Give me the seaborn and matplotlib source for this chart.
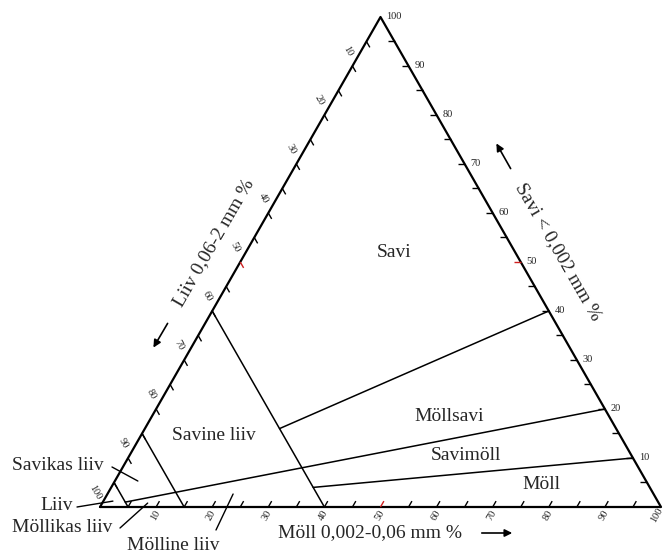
import numpy as np
import pandas as pd
import matplotlib
matplotlib.use('Agg')
import matplotlib.pyplot as plt
import seaborn as sns
from matplotlib.collections import LineCollection

# Piirjooned kolmnurgas: (savi %, möll %) algus ja lõpp
line_clay_start = [5, 15, 40, 16, 1, 4]
line_silt_start = [0, 0, 0, 24, 4, 36]
line_clay_end = [0, 0, 0, 40, 20, 10]
line_silt_end = [5, 15, 40, 60, 80, 90]

# Teljed
tick_values = list(range(5, 100, 5))
label_values = [10, 20, 30, 40, 50, 60, 70, 80, 90, 100]
red_tick = 50

# Alade nimed
region_names = ['Savi', 'Möllsavi', 'Savimöll', 'Möll', 'Savine liiv']
region_clay = [52, 18.5, 10.5, 4.5, 14.5]
region_silt = [26.5, 53, 60, 76.5, 13]

pointer_names = ['Liiv', 'Savikas liiv', 'Möllikas liiv', 'Mölline liiv']
pointer_clay = [1.2, 5.3, 0.8, 2.65]
pointer_silt = [1.7, 4.1, 8.1, 22.4]

H = np.sqrt(3) / 2


def tern(clay, silt):
    clay = np.asarray(clay, dtype=float)
    silt = np.asarray(silt, dtype=float)
    return silt + clay / 2, clay * H


# pikslid -> andmed (666x554 pilt)
KX = 5.61
KY = 86.6025 / 490


def px(xp, yp):
    return (xp - 100) / KX, (507 - yp) * KY


sns.set_theme(style='white')
plt.rcParams['font.family'] = ['Liberation Serif', 'DejaVu Serif']

fig = plt.figure(figsize=(6.66, 5.54), dpi=100)
ax = fig.add_axes([0, 0, 1, 1])
ax.set_xlim(px(0, 0)[0], px(666, 0)[0])
ax.set_ylim(px(0, 554)[1], px(0, 0)[1])
ax.axis('off')

# raam
fx, fy = tern([0, 0, 100, 0], [0, 100, 0, 0])
frame = pd.DataFrame({'x': fx, 'y': fy, 'seg': 0})
sns.lineplot(data=frame, x='x', y='y', units='seg', estimator=None, sort=False,
             color='black', linewidth=1.6, ax=ax, legend=False)

# piirjooned
x0, y0 = tern(line_clay_start, line_silt_start)
x1, y1 = tern(line_clay_end, line_silt_end)
rows = []
for i in range(len(x0)):
    rows.append({'x': x0[i], 'y': y0[i], 'seg': i})
    rows.append({'x': x1[i], 'y': y1[i], 'seg': i})
bounds = pd.DataFrame(rows)
sns.lineplot(data=bounds, x='x', y='y', units='seg', estimator=None, sort=False,
             color='black', linewidth=1.1, ax=ax, legend=False)

# kriipsud
L = 1.2
segs, cols = [], []
for v in tick_values:
    c = '#d02020' if v == red_tick else 'black'
    # alumine (möll)
    bx, by = tern(0, v)
    segs.append([(bx, by), (bx + 0.5 * L, by + H * L)])
    cols.append(c)
    # parem (savi)
    rx, ry = tern(v, 100 - v)
    segs.append([(rx, ry), (rx - L, ry)])
    cols.append(c)
    # vasak (liiv)
    lx, ly = tern(100 - v, 0)
    segs.append([(lx, ly), (lx + 0.5 * L, ly - H * L)])
    cols.append(c)
ax.add_collection(LineCollection(segs, colors=cols, linewidths=1.0))

# kriipsude sildid
for v in label_values:
    bx, by = tern(0, v)
    shift = 4 if v == 100 else 1
    ax.text(bx - shift / KX, by - 8 * KY, str(v), rotation=60, ha='center', va='center',
            fontsize=7.5, color='#222222')
    rx, ry = tern(v, 100 - v)
    ax.text(rx + 6 / KX, ry, str(v), ha='left', va='center', fontsize=7.5, color='#222222')
    lx, ly = tern(100 - v, 0)
    ax.text(lx - 5 / KX, ly + 15 * KY, str(v), rotation=-60, ha='center', va='center',
            fontsize=7.5, color='#222222')

# alade nimed
tx, ty = tern(region_clay, region_silt)
for name, x, y in zip(region_names, tx, ty):
    ax.text(x, y, name, ha='center', va='center', fontsize=14)

# viidetega nimed
text_pos = [px(40, 505), px(12, 465), px(12, 528), px(127, 545)]
line_start = [px(77, 507), px(112, 467), px(120, 528), px(216, 530)]
px_, py_ = tern(pointer_clay, pointer_silt)
for name, tp, ls, x, y in zip(pointer_names, text_pos, line_start, px_, py_):
    ax.text(tp[0], tp[1], name, ha='left', va='center', fontsize=14)
    ax.plot([ls[0], x], [ls[1], y], color='black', linewidth=1.0)

# telgede pealkirjad
ax.text(*px(370, 533), 'Möll 0,002-0,06 mm %', ha='center', va='center', fontsize=14)
ax.annotate('', xy=px(515, 533), xytext=px(479, 533),
            arrowprops=dict(arrowstyle='-|>', color='black', lw=1.2, mutation_scale=11))

ax.text(*px(214, 243), 'Liiv 0,06-2 mm %', rotation=60, ha='center', va='center',
        fontsize=14, rotation_mode='anchor')
ax.annotate('', xy=px(152, 350), xytext=px(169, 321),
            arrowprops=dict(arrowstyle='-|>', color='black', lw=1.2, mutation_scale=11))

ax.text(*px(558, 252), 'Savi < 0,002 mm %', rotation=-60, ha='center', va='center',
        fontsize=14, rotation_mode='anchor')
ax.annotate('', xy=px(495, 141), xytext=px(512, 171),
            arrowprops=dict(arrowstyle='-|>', color='black', lw=1.2, mutation_scale=11))

fig.savefig('out.png', dpi=100)
